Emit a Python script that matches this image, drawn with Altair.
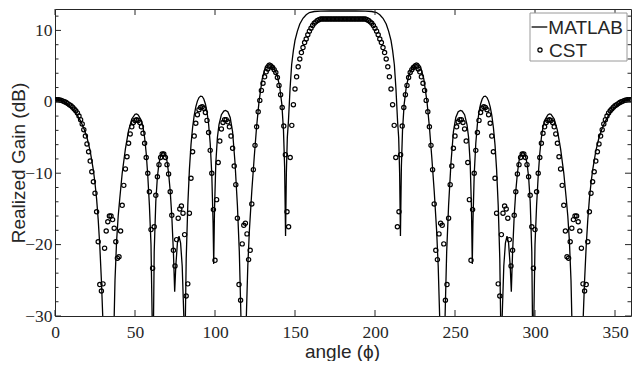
import altair as alt
import pandas as pd

# ---------------- data ----------------
matlab_deg = [
    0, 2, 4, 6, 8, 10, 12, 14, 16, 18, 20, 22, 24, 25, 26, 27, 28, 29, 30, 30.6,
    33.7, 36.5, 37, 37.5, 38.5, 39.5, 40.5, 42, 44, 46, 48, 50, 51, 52, 54, 55, 56, 57, 58, 59,
    60, 60.7, 61.2, 61.6, 62, 63, 64, 65, 66, 67, 68, 69, 70, 71, 72, 73, 74, 74.8, 75.5, 76.5,
    77.5, 78.5, 79.5, 80.5, 81, 81.5, 82, 83, 84, 85, 86, 87, 88, 89, 90, 91, 92, 93, 94, 95,
    96, 97, 98, 98.8, 99.2, 99.7, 100.5, 101.5, 102.5, 104, 105.5, 106.6, 108, 109.5, 111, 112.5,
    114, 115.2, 116.2, 116.8, 118, 119, 119.6, 120.5, 121.5, 123, 124.5, 126, 127.5, 129.5, 131.5,
    133, 134.2, 135.5, 137, 139, 140.5, 141.8, 142.8, 143.5, 144.1, 144.6, 145.2, 145.9, 146.9,
    147.9, 149, 150, 151.5, 153, 155, 157, 159, 162, 166, 172, 180,
    188, 194, 198, 201, 203, 205, 207, 208.5, 210, 211, 212.1, 213.1, 214.1, 214.8, 215.4, 215.9,
    216.5, 217.2, 218.2, 219.5, 221, 223, 224.5, 225.8, 227, 228.5, 230.5, 232.5, 234, 235.5, 237,
    238.5, 239.5, 240.4, 241, 242, 243.2, 243.8, 244.8, 246, 247.5, 249, 250.5, 252, 253.4, 254.5,
    256, 257.5, 258.5, 259.5, 260.3, 260.8, 261.2, 262, 263, 264, 265, 266, 267, 268, 269, 270,
    271, 272, 273, 274, 275, 276, 277, 278, 278.5, 279, 279.5, 280.5, 281.5, 282.5, 283.5, 284.5,
    285.2, 286, 287, 288, 289, 290, 291, 292, 293, 294, 295, 296, 297, 298, 298.4, 298.8, 299.3,
    300, 301, 302, 303, 304, 305, 306, 308, 309, 310, 312, 314, 316, 318, 319.5, 320.5, 321.5,
    322.5, 323, 323.5, 326.3, 329.4, 330, 331, 332, 333, 334, 335, 336, 338, 340, 342, 344, 346,
    348, 350, 352, 354, 356, 358, 360,
]
matlab_db = [
    0.4, 0.35, 0.2, 0.0, -0.35, -0.8, -1.3, -1.9, -2.7, -3.7, -5.0, -6.9, -9.6, -11.4, -13.6, -16.5, -20.2, -25.0, -31.0, -40,
    -45, -40, -30, -25, -19.5, -16, -13.5, -10, -6.6, -4.0, -2.4, -1.75, -1.7, -1.85, -2.6, -3.5, -5.0, -7.2, -10.4, -14.5,
    -20, -30, -40, -30, -21, -14, -10.5, -8.6, -7.6, -7.15, -7.1, -7.4, -8.3, -10, -12.5, -16, -21, -26.6, -23, -19.8,
    -18.8, -19.8, -23, -30, -40, -30, -22, -14.5, -9.5, -6.0, -3.6, -1.9, -0.7, 0.1, 0.6, 0.8, 0.75, 0.4, -0.3, -1.4,
    -3.1, -5.8, -10.2, -17, -22.7, -15, -8.6, -5, -3.2, -1.8, -1.3, -1.2, -1.4, -2.2, -4.2, -8.5,
    -14.5, -21, -30, -40, -36, -40, -30, -23, -18, -12.5, -7.8, -3.5, 0, 3.2, 4.9,
    5.35, 5.45, 5.3, 4.7, 3.6, 2.0, -0.4, -4, -9, -18.8, -10, -5, -2.7, 1.8,
    5.2, 7.2, 8.6, 9.9, 10.9, 11.7, 12.2, 12.5, 12.65, 12.7, 12.72, 12.72,
    12.72, 12.7, 12.65, 12.5, 12.2, 11.7, 10.9, 9.9, 8.6, 7.2, 5.2, 1.8, -2.7, -5, -10, -18.8,
    -9, -4, -0.4, 2.0, 3.6, 4.7, 5.3, 5.45, 5.35, 4.9, 3.2, 0, -3.5, -7.8, -12.5,
    -18, -23, -30, -40, -36, -40, -30, -21, -14.5, -8.5, -4.2, -2.2, -1.4, -1.2, -1.3,
    -1.8, -3.2, -5, -8.6, -15, -22.7, -17, -10.2, -5.8, -3.1, -1.4, -0.3, 0.4, 0.75, 0.8, 0.6,
    0.1, -0.7, -1.9, -3.6, -6.0, -9.5, -14.5, -22, -30, -40, -30, -23, -19.8, -18.8, -19.8, -23,
    -26.6, -21, -16, -12.5, -10, -8.3, -7.4, -7.1, -7.15, -7.6, -8.6, -10.5, -14, -21, -30, -40, -30,
    -20, -14.5, -10.4, -7.2, -5.0, -3.5, -2.6, -1.85, -1.7, -1.75, -2.4, -4.0, -6.6, -10, -13.5, -16, -19.5,
    -25, -30, -40, -45, -40, -31.0, -25.0, -20.2, -16.5, -13.6, -11.4, -9.6, -6.9, -5.0, -3.7, -2.7, -1.9,
    -1.3, -0.8, -0.35, 0.0, 0.2, 0.35, 0.4,
]

cst_deg = list(range(0, 361))
cst_db = [
    0.3, 0.3, 0.3, 0.25, 0.2, 0.1, 0.0, -0.1, -0.25, -0.4,
    -0.55, -0.75, -1.0, -1.25, -1.55, -2.0, -2.5, -3.1, -3.9, -4.8,
    -5.9, -7.0, -8.3, -9.8, -11.2, -12.8, -15.4, -19.6, -25.6, -26.5,
    -25.5, -20.5, -18.1, -16.8, -16.0, -16.0, -16.5, -17.7, -19.6, -21.9,
    -21.7, -18.1, -14.5, -11.7, -9.4, -7.7, -5.8, -4.5, -3.5, -2.9,
    -2.6, -2.5, -2.6, -2.9, -3.5, -4.4, -5.8, -7.8, -10.0, -12.6,
    -17.9, -23.3, -17.5, -13.1, -10.5, -8.8, -7.8, -7.3, -7.3, -7.8,
    -8.8, -10.1, -12.6, -15.9, -20.8, -23.0, -19.3, -16.3, -15.0, -14.6,
    -15.6, -18.6, -27.2, -25.5, -15.6, -10.7, -7.0, -4.8, -3.0, -1.8,
    -1.1, -0.8, -0.7, -0.9, -1.5, -2.6, -4.3, -6.8, -10.0, -15.1,
    -22.2, -13.7, -8.5, -5.5, -3.8, -2.9, -2.5, -2.5, -2.8, -3.5,
    -4.8, -6.5, -9.0, -11.6, -16.3, -25.6, -27.8, -19.9, -17.3, -17.0,
    -18.5, -22.1, -20.8, -14.3, -9.5, -6.1, -3.5, -1.4, 0.2, 1.6,
    2.6, 3.5, 4.2, 4.6, 4.9, 5.0, 4.8, 4.5, 4.1, 3.4,
    2.3, 1.0, -0.8, -3.4, -7.4, -15.4, -17.5, -7.8, -3.3, -0.4,
    1.8, 3.5, 4.9, 6.0, 6.9, 7.6, 8.3, 8.8, 9.4, 9.9,
    10.3, 10.7, 11.0, 11.2, 11.4, 11.5, 11.6, 11.6, 11.6, 11.6,
    11.6, 11.6, 11.6, 11.6, 11.6, 11.6, 11.6, 11.6, 11.6, 11.6,
    11.6,
    11.6, 11.6, 11.6, 11.6, 11.6, 11.6, 11.6, 11.6, 11.6, 11.6,
    11.6, 11.6, 11.6, 11.6, 11.5, 11.4, 11.2, 11.0, 10.7, 10.3,
    9.9, 9.4, 8.8, 8.3, 7.6, 6.9, 6.0, 4.9, 3.5, 1.8,
    -0.4, -3.3, -7.8, -17.5, -15.4, -7.4, -3.4, -0.8, 1.0, 2.3,
    3.4, 4.1, 4.5, 4.8, 5.0, 4.9, 4.6, 4.2, 3.5, 2.6,
    1.6, 0.2, -1.4, -3.5, -6.1, -9.5, -14.3, -20.8, -22.1, -18.5,
    -17.0, -17.3, -19.9, -27.8, -25.6, -16.3, -11.6, -9.0, -6.5, -4.8,
    -3.5, -2.8, -2.5, -2.5, -2.9, -3.8, -5.5, -8.5, -13.7, -22.2,
    -15.1, -10.0, -6.8, -4.3, -2.6, -1.5, -0.9, -0.7, -0.8, -1.1,
    -1.8, -3.0, -4.8, -7.0, -10.7, -15.6, -25.5, -27.2, -18.6, -15.6,
    -14.6, -15.0, -16.3, -19.3, -23.0, -20.8, -15.9, -12.6, -10.1, -8.8,
    -7.8, -7.3, -7.3, -7.8, -8.8, -10.5, -13.1, -17.5, -23.3, -17.9,
    -12.6, -10.0, -7.8, -5.8, -4.4, -3.5, -2.9, -2.6, -2.5, -2.6,
    -2.9, -3.5, -4.5, -5.8, -7.7, -9.4, -11.7, -14.5, -18.1, -21.7,
    -21.9, -19.6, -17.7, -16.5, -16.0, -16.0, -16.8, -18.1, -20.5, -25.5,
    -26.5, -25.6, -19.6, -15.4, -12.8, -11.2, -9.8, -8.3, -7.0, -5.9,
    -4.8, -3.9, -3.1, -2.5, -2.0, -1.55, -1.25, -1.0, -0.75, -0.55,
    -0.4, -0.25, -0.1, 0.0, 0.1, 0.2, 0.25, 0.3, 0.3, 0.3,
]

x_tick_values = [0, 50, 100, 150, 200, 250, 300, 350]
y_tick_values = [-30, -20, -10, 0, 10]
y_minor_values = [-28, -26, -24, -22, -18, -16, -14, -12, -8, -6, -4, -2, 2, 4, 6, 8, 12]
legend_labels = ["MATLAB", "CST"]

# ---------------- layout / style ----------------
W, H = 576, 307
PAD_LEFT = 47
INK = "#262626"
MAJOR, MINOR = 6, 3.5
SERIF = "Liberation Serif"
SANS = "Liberation Sans"

x_scale = alt.Scale(domain=[0, 360], nice=False, zero=False)
y_scale = alt.Scale(domain=[-30, 13], nice=False, zero=False)

matlab_df = pd.DataFrame({"angle": matlab_deg, "gain": matlab_db})
cst_df = pd.DataFrame({"angle": cst_deg, "gain": cst_db})
xt_df = pd.DataFrame({"angle": x_tick_values})
yt_df = pd.DataFrame({"gain": y_tick_values})
ym_df = pd.DataFrame({"gain": y_minor_values})
one = pd.DataFrame({"k": [0]})

x_axis = alt.Axis(
    values=x_tick_values, ticks=False, domain=False, grid=False,
    labelFont=SERIF, labelFontSize=17.5, labelColor=INK,
    labelPadding=7, labelFlush=False, labelOverlap=False,
    title="angle (ϕ)", titleFont=SANS, titleFontSize=19,
    titleFontWeight="normal", titleColor=INK, titleX=W / 2 - 1, titleY=41,
    titleBaseline="alphabetic", titleAlign="center",
)
y_axis = alt.Axis(
    values=y_tick_values, ticks=False, domain=False, grid=False,
    labelFont=SERIF, labelFontSize=17.5, labelColor=INK,
    labelPadding=3, labelFlush=False, labelOverlap=False,
    labelExpr="replace(datum.label, '-', '\u2212')",
    title="Realized Gain (dB)", titleFont=SANS, titleFontSize=19,
    titleFontWeight="normal", titleColor=INK, titleX=-(PAD_LEFT - 1), titleY=H / 2,
    titleAngle=270, titleBaseline="top", titleAlign="center",
)

X = alt.X("angle:Q", scale=x_scale, axis=x_axis)
Y = alt.Y("gain:Q", scale=y_scale, axis=y_axis)

matlab = alt.Chart(matlab_df).mark_line(color="black", strokeWidth=1.3, clip=True).encode(
    x=X, y=Y, order=alt.Order("angle:Q"),
)
cst = alt.Chart(cst_df).mark_point(
    shape="circle", filled=False, color="black", size=18, strokeWidth=1.2, opacity=1, clip=True
).encode(x=X, y=Y)

def xticks(y0, y1):
    return alt.Chart(xt_df).mark_rule(color=INK, strokeWidth=1).encode(
        x=X, y=alt.value(y0), y2=alt.value(y1)
    )

def yticks(df, x0, x1):
    return alt.Chart(df).mark_rule(color=INK, strokeWidth=1).encode(
        y=Y, x=alt.value(x0), x2=alt.value(x1)
    )

tick_layers = [
    xticks(H, H - MAJOR), xticks(0, MAJOR),
    yticks(yt_df, 0, MAJOR), yticks(yt_df, W, W - MAJOR),
    yticks(ym_df, 0, MINOR), yticks(ym_df, W, W - MINOR),
]

# legend box (top right, inside the axes)
LX, LY = W - 101, 4
legend_box = alt.Chart(one).mark_rect(fill="white", stroke="#9a9a9a", strokeWidth=1).encode(
    x=alt.value(LX), x2=alt.value(LX + 97), y=alt.value(LY), y2=alt.value(LY + 48)
)
legend_line = alt.Chart(one).mark_rule(color="black", strokeWidth=1.3).encode(
    x=alt.value(LX + 1.6), x2=alt.value(LX + 17.3), y=alt.value(LY + 14)
)
legend_dot = alt.Chart(one).mark_point(
    shape="circle", filled=False, color="black", size=18, strokeWidth=1.2, opacity=1
).encode(x=alt.value(LX + 10), y=alt.value(LY + 37))
legend_t1 = alt.Chart(one).mark_text(
    align="left", baseline="alphabetic", font=SANS, fontSize=19, color=INK
).encode(x=alt.value(LX + 18.3), y=alt.value(LY + 20.6), text=alt.value(legend_labels[0]))
legend_t2 = alt.Chart(one).mark_text(
    align="left", baseline="alphabetic", font=SANS, fontSize=19, color=INK
).encode(x=alt.value(LX + 19), y=alt.value(LY + 44), text=alt.value(legend_labels[1]))

chart = alt.layer(
    matlab, cst, *tick_layers, legend_box, legend_line, legend_dot, legend_t1, legend_t2
).properties(
    width=W, height=H, autosize="none",
    padding={"left": PAD_LEFT, "top": 1, "right": 1, "bottom": 45},
    background="white",
).configure_view(stroke=INK, strokeWidth=1)

chart.save("out.html", embed_options={"renderer": "svg", "actions": False})
